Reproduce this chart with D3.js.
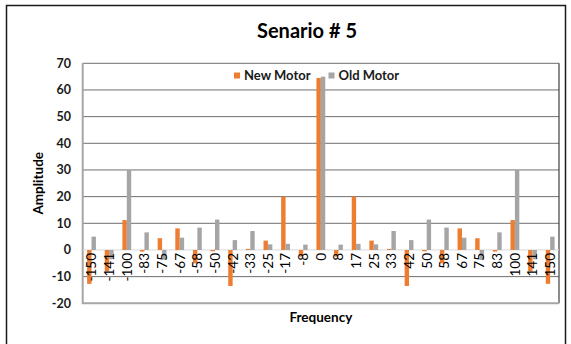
<!DOCTYPE html>
<html>
<head>
<meta charset="utf-8">
<script src="https://cdn.jsdelivr.net/npm/d3@7"></script>
<style>
  html, body { margin: 0; padding: 0; background: #fff; }
  svg { display: block; font-family: Lato, "Open Sans", sans-serif; }
</style>
</head>
<body>
<svg id="chart" width="571" height="344"></svg>
<script>
// Spectrum comparison, scenario 5
const categories = ["-150","-141","-100","-83","-75","-67","-58","-50","-42","-33","-25","-17","-8","0","8","17","25","33","42","50","58","67","75","83","100","141","150"];
const newMotor = [-12.7, -8, 11.2, -0.6, 4.4, 8.1, -5, -0.5, -13.5, 0.4, 3.5, 20, -2.5, 64.5, -2.5, 20, 3.5, 0.4, -13.5, -0.5, -5, 8.1, 4.4, -0.6, 11.2, -8, -12.7];
const oldMotor = [5, -3.5, 30, 6.6, -3.7, 4.6, 8.4, 11.4, 3.7, 7.1, 2.1, 2.3, 2.0, 65, 2.0, 2.3, 2.1, 7.1, 3.7, 11.4, 8.4, 4.6, -3.7, 6.6, 30, -3.5, 5];
const yTicks = [-20, -10, 0, 10, 20, 30, 40, 50, 60, 70];
const seriesNames = ["New Motor", "Old Motor"];
const seriesColors = ["#ED7D31", "#A5A5A5"];

const svg = d3.select("#chart");
const plot = { left: 82.7, right: 559, top: 63.3, bottom: 303.3 };

// Outer chart frame
svg.append("rect")
  .attr("x", 6.5).attr("y", 5.5)
  .attr("width", 559).attr("height", 345)
  .attr("fill", "#fff").attr("stroke", "#1a1a1a").attr("stroke-width", 1.5);

const x = d3.scaleBand().domain(categories).range([plot.left, plot.right]).padding(0);
const y = d3.scaleLinear().domain([-20, 70]).range([plot.bottom, plot.top]);
const barW = x.bandwidth() / 4;

// Horizontal gridlines
svg.append("g")
  .selectAll("line")
  .data(yTicks.filter(t => t !== 0 && t !== -20))
  .join("line")
  .attr("x1", plot.left).attr("x2", plot.right)
  .attr("y1", d => y(d)).attr("y2", d => y(d))
  .attr("stroke", "#6e6e6e").attr("stroke-width", 1);

// Right border of the plot area
svg.append("line")
  .attr("x1", plot.right).attr("x2", plot.right)
  .attr("y1", plot.top).attr("y2", plot.bottom)
  .attr("stroke", "#404040").attr("stroke-width", 1.2);

// Value axis (left) and bottom edge
svg.append("path")
  .attr("d", `M${plot.left},${plot.top}V${plot.bottom}H${plot.right}`)
  .attr("fill", "none").attr("stroke", "#a6a6a6").attr("stroke-width", 2);

// Category axis at zero
svg.append("line")
  .attr("x1", plot.left).attr("x2", plot.right)
  .attr("y1", y(0)).attr("y2", y(0))
  .attr("stroke", "#d9d9d9").attr("stroke-width", 1);

// Bars
const series = [newMotor, oldMotor];
series.forEach((vals, si) => {
  svg.append("g")
    .selectAll("rect")
    .data(vals)
    .join("rect")
    .attr("x", (d, i) => x(categories[i]) + x.bandwidth() / 4 + si * barW)
    .attr("width", barW)
    .attr("y", d => Math.min(y(d), y(0)))
    .attr("height", d => Math.abs(y(d) - y(0)))
    .attr("fill", seriesColors[si]);
});

// Category labels, rotated
svg.append("g")
  .selectAll("text")
  .data(categories)
  .join("text")
  .attr("transform", d => `translate(${x(d) + x.bandwidth() / 2},${y(0) + 3}) rotate(-90)`)
  .attr("text-anchor", "end")
  .attr("dy", "0.36em")
  .attr("font-size", 13.5)
  .attr("fill", "#000")
  .text(d => d);

// Value axis labels
svg.append("g")
  .selectAll("text")
  .data(yTicks)
  .join("text")
  .attr("x", 71)
  .attr("y", d => y(d))
  .attr("dy", "0.36em")
  .attr("text-anchor", "end")
  .attr("font-size", 12.5)
  .attr("font-weight", "bold")
  .attr("fill", "#1a1a1a")
  .text(d => d);

// Title
svg.append("text")
  .attr("x", 307).attr("y", 38)
  .attr("text-anchor", "middle")
  .attr("font-size", 20)
  .attr("font-weight", "bold")
  .text("Senario # 5");

// Axis titles
svg.append("text")
  .attr("transform", `translate(38,${(plot.top + plot.bottom) / 2}) rotate(-90)`)
  .attr("text-anchor", "middle")
  .attr("dy", "0.36em")
  .attr("font-size", 13.5)
  .attr("font-weight", "bold")
  .text("Amplitude");

svg.append("text")
  .attr("x", (plot.left + plot.right) / 2).attr("y", 322)
  .attr("text-anchor", "middle")
  .attr("font-size", 13.5)
  .attr("font-weight", "bold")
  .text("Frequency");

// Legend
const legendX = [234, 328.5];
const legend = svg.append("g");
seriesNames.forEach((name, i) => {
  legend.append("rect")
    .attr("x", legendX[i]).attr("y", 72.5)
    .attr("width", 6).attr("height", 6)
    .attr("fill", seriesColors[i]);
  legend.append("text")
    .attr("x", legendX[i] + 10).attr("y", 75.5)
    .attr("dy", "0.36em")
    .attr("font-size", 13)
    .attr("font-weight", "bold")
    .attr("fill", "#1a1a1a")
    .text(name);
});
</script>
</body>
</html>
